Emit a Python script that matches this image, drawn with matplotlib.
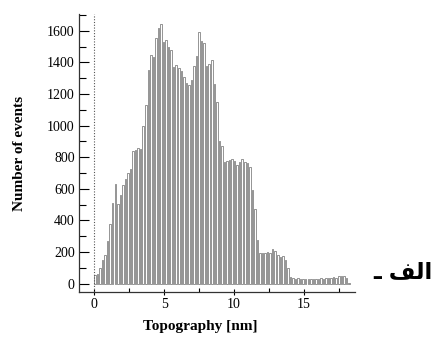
import numpy as np
import matplotlib
matplotlib.use("Agg")
import matplotlib.pyplot as plt
from matplotlib.ticker import MultipleLocator

# histogram: bin width in nm, counts per bin
bin_width = 0.182
first_bin = 0.04
counts = [
    55, 60, 96, 149, 180, 271, 377, 512, 630, 503,
    560, 624, 660, 700, 723, 841, 845, 856, 851, 1000,
    1130, 1351, 1446, 1432, 1556, 1620, 1643, 1531, 1541, 1495,
    1478, 1372, 1383, 1362, 1347, 1305, 1267, 1256, 1288, 1374,
    1438, 1592, 1533, 1525, 1375, 1388, 1415, 1262, 1151, 905,
    872, 772, 778, 780, 788, 775, 748, 770, 790, 770,
    760, 740, 592, 470, 275, 195, 195, 195, 197, 195,
    216, 205, 180, 170, 176, 149, 96, 40, 35, 30,
    38, 28, 30, 28, 30, 28, 30, 30, 28, 32,
    30, 35, 32, 38, 40, 35, 45, 48, 50, 35,
    5,
]
x_ticks = [0, 5, 10, 15]
y_ticks = [0, 200, 400, 600, 800, 1000, 1200, 1400, 1600]
x_label = "Topography [nm]"
y_label = "Number of events"
# "الف ـ" written in visual order with presentation forms (no shaping in mpl)
panel_tag = "\u0640 \uFED2\uFEDF\uFE8D"

plt.rcParams["font.family"] = ["Liberation Serif", "DejaVu Serif"]

centers = first_bin + bin_width * np.arange(len(counts))

fig = plt.figure(figsize=(4.36, 3.42), dpi=100)
ax = fig.add_axes([0.181, 0.146, 0.633, 0.813])

ax.bar(centers, counts, width=bin_width * 0.6, color="white",
       edgecolor="#5a5a5a", linewidth=0.45)
ax.axvline(0, color="#555555", ls=(0, (1, 1.5)), lw=0.8)

ax.set_xlim(-1.11, 18.67)
ax.set_ylim(-54, 1706)
ax.set_xticks(x_ticks)
ax.set_yticks(y_ticks)
ax.xaxis.set_minor_locator(MultipleLocator(2.5))
ax.yaxis.set_minor_locator(MultipleLocator(100))

for s in ["top", "right"]:
    ax.spines[s].set_visible(False)
for s in ["left", "bottom"]:
    ax.spines[s].set_linewidth(0.9)
    ax.spines[s].set_color("#333333")

ax.tick_params(axis="y", which="major", direction="in", length=7, width=0.8,
               labelsize=10, pad=3)
ax.tick_params(axis="y", which="minor", direction="in", length=5, width=0.8)
ax.tick_params(axis="x", which="major", direction="inout", length=5, width=0.8,
               labelsize=10, pad=2)
ax.tick_params(axis="x", which="minor", direction="in", length=3, width=0.8)

ax.set_xlabel(x_label, fontsize=11, fontweight="bold", labelpad=6)
ax.xaxis.set_label_coords(0.44, -0.10)
ax.set_ylabel(y_label, fontsize=11, fontweight="bold", labelpad=15)

fig.text(0.993, 0.205, panel_tag, family="DejaVu Sans", fontweight="bold",
         fontsize=16.5, ha="right", va="center")

fig.savefig("out.png", dpi=100)
